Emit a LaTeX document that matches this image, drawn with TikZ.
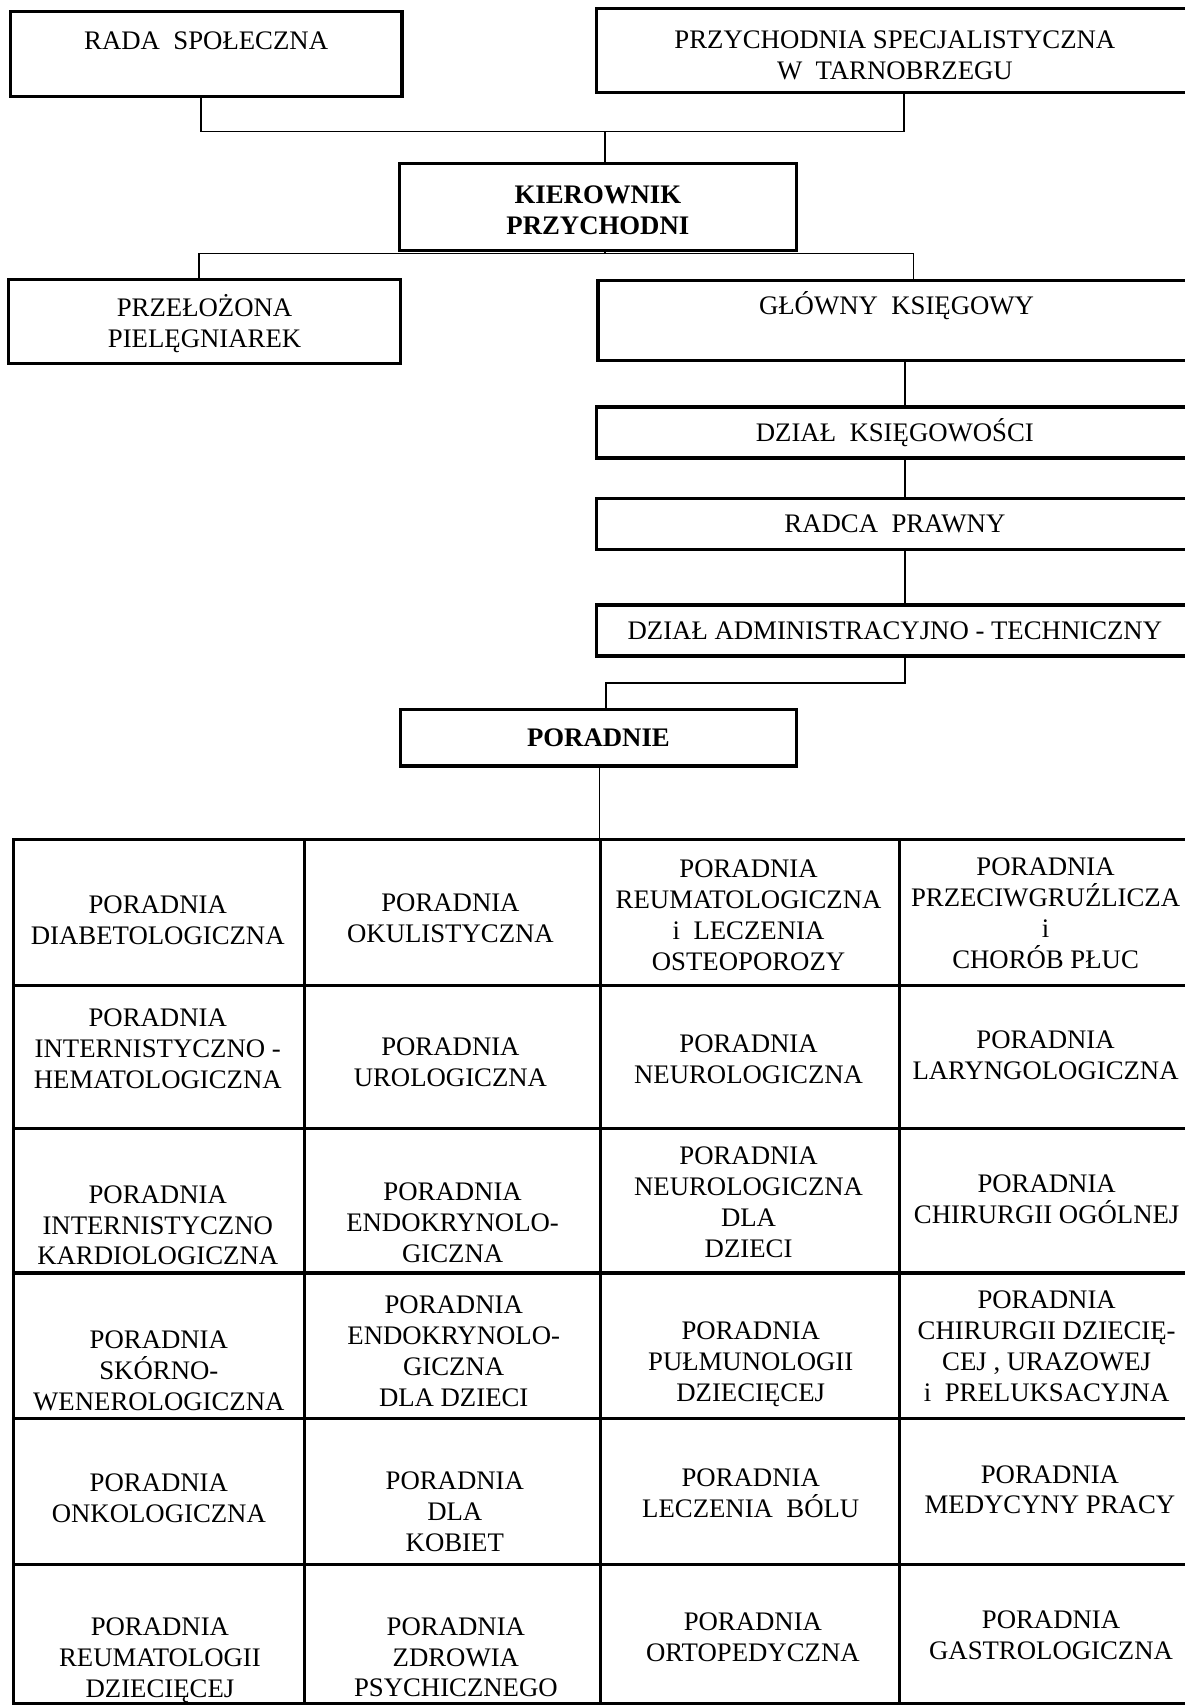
\documentclass[tikz,border=0pt]{standalone}
\usepackage{fontspec}
\setmainfont{Liberation Serif}
\newcommand{\lift}[1]{\rule{0pt}{#1}}
\begin{document}
\begin{tikzpicture}[x=0.5pt,y=-0.5pt,
  every node/.style={font=\fontsize{12.3}{14.2}\selectfont, inner sep=0pt, align=center},
  cell/.style={yshift=-1.1pt},
  orgbox/.style={draw, line width=1.5pt, rectangle},
  boldtext/.style={font=\fontsize{12.3}{14.2}\selectfont\bfseries},
  conn/.style={line width=0.75pt},
  gridline/.style={line width=1.4pt}
]
\fill[white] (0,0) rectangle (1089,1568);
\useasboundingbox (0,0) rectangle (1089,1568);

% top boxes
\node[orgbox, minimum width=180pt, text height=17.5pt, text depth=21.5pt, anchor=north west] (rada) at (8,9) {RADA\ \ SPOŁECZNA};
\node[orgbox, minimum width=274.5pt, minimum height=38.5pt] (przych) at (822.5,46.5) {\lift{12.2pt}PRZYCHODNIA SPECJALISTYCZNA\\W\ \ TARNOBRZEGU};
\node[orgbox, boldtext, minimum width=182.5pt, minimum height=40pt] (kier) at (549.5,190) {\lift{11.1pt}KIEROWNIK\\PRZYCHODNI};
\node[orgbox, minimum width=180pt, minimum height=38.5pt] (przel) at (188,295.5) {\lift{12.3pt}PRZEŁOŻONA\\PIELĘGNIAREK};
\node[orgbox, minimum width=274.5pt, text height=16pt, text depth=21pt, anchor=north west] (glowny) at (548,256) {GŁÓWNY\ \ KSIĘGOWY};
\node[orgbox, minimum width=274.5pt, minimum height=23.5pt] (ksieg) at (822.5,397.5) {DZIAŁ\ \ KSIĘGOWOŚCI};
\node[orgbox, minimum width=274.5pt, minimum height=23.5pt] (radca) at (822.5,481.5) {RADCA\ \ PRAWNY};
\node[orgbox, minimum width=274.5pt, minimum height=23.5pt] (adm) at (822.5,579.5) {DZIAŁ ADMINISTRACYJNO - TECHNICZNY};
\node[orgbox, boldtext, minimum width=182pt, minimum height=26pt] (por) at (550,678) {PORADNIE};

% connectors
\coordinate (j1) at (556,121);
\draw[conn] ([xshift=-2.5pt]rada.south) |- (j1) -| ([xshift=4.25pt]przych.south);
\draw[conn] (j1) -- (j1 |- kier.north);
\coordinate (j2) at (556,233);
\draw[conn] (kier.south -| j2) -- (j2);
\draw[conn] ([xshift=-2.5pt]przel.north) |- (j2) -| ([xshift=7.75pt]glowny.north);
\coordinate (vx) at (832,0);
\draw[conn] (glowny.south -| vx) -- (ksieg.north -| vx);
\draw[conn] (ksieg.south -| vx) -- (radca.north -| vx);
\draw[conn] (radca.south -| vx) -- (adm.north -| vx);
\coordinate (j3) at (557,628);
\draw[conn] (adm.south -| vx) |- (j3) -- (j3 |- por.north);
\coordinate (gtop) at (551,772);
\draw[conn] (por.south -| gtop) -- (gtop);

% grid
\draw[gridline] (12,772) rectangle (1100,1566);
\foreach \x in {280,552,827} \draw[gridline] (\x,772) -- (\x,1566);
\foreach \y in {906,1037,1170,1304,1438} \draw[gridline] (12,\y) -- (1100,\y);

% row 1
\node[cell] (c11) at (145,844) {PORADNIA\\DIABETOLOGICZNA};
\node[cell] (c12) at (414,842) {PORADNIA\\OKULISTYCZNA};
\node[cell] (c13) at (688,839) {PORADNIA\\REUMATOLOGICZNA\\i\ \ LECZENIA\\OSTEOPOROZY};
\node[cell] (c14) at (961,837) {PORADNIA\\PRZECIWGRUŹLICZA\\i\\CHORÓB PŁUC};
% row 2
\node[cell] (c21) at (145,962) {PORADNIA\\INTERNISTYCZNO -\\HEMATOLOGICZNA};
\node[cell] (c22) at (414,974) {PORADNIA\\UROLOGICZNA};
\node[cell] (c23) at (688,971) {PORADNIA\\NEUROLOGICZNA};
\node[cell] (c24) at (961,968) {PORADNIA\\LARYNGOLOGICZNA};
% row 3
\node[cell] (c31) at (145,1124) {PORADNIA\\INTERNISTYCZNO\\KARDIOLOGICZNA};
\node[cell] (c32) at (416,1122) {PORADNIA\\ENDOKRYNOLO-\\GICZNA};
\node[cell] (c33) at (688,1103) {PORADNIA\\NEUROLOGICZNA\\DLA\\DZIECI};
\node[cell] (c34) at (962,1100) {PORADNIA\\CHIRURGII OGÓLNEJ};
% row 4
\node[cell] (c41) at (146,1258) {PORADNIA\\SKÓRNO-\\WENEROLOGICZNA};
\node[cell] (c42) at (417,1240) {PORADNIA\\ENDOKRYNOLO-\\GICZNA\\DLA DZIECI};
\node[cell] (c43) at (690,1252) {PORADNIA\\PUŁMUNOLOGII\\DZIECIĘCEJ};
\node[cell] (c44) at (962,1235) {PORADNIA\\CHIRURGII DZIECIĘ-\\CEJ , URAZOWEJ\\i\ \ PRELUKSACYJNA};
% row 5
\node[cell] (c51) at (146,1375) {PORADNIA\\ONKOLOGICZNA};
\node[cell] (c52) at (418,1387) {PORADNIA\\DLA\\KOBIET};
\node[cell] (c53) at (690,1370) {PORADNIA\\LECZENIA\ \ BÓLU};
\node[cell] (c54) at (965,1367) {PORADNIA\\MEDYCYNY PRACY};
% row 6
\node[cell] (c61) at (147,1524) {PORADNIA\\REUMATOLOGII\\DZIECIĘCEJ};
\node[cell] (c62) at (419,1521) {PORADNIA\\ZDROWIA\\PSYCHICZNEGO};
\node[cell] (c63) at (692,1503) {PORADNIA\\ORTOPEDYCZNA};
\node[cell] (c64) at (966,1501) {PORADNIA\\GASTROLOGICZNA};
\end{tikzpicture}
\end{document}
